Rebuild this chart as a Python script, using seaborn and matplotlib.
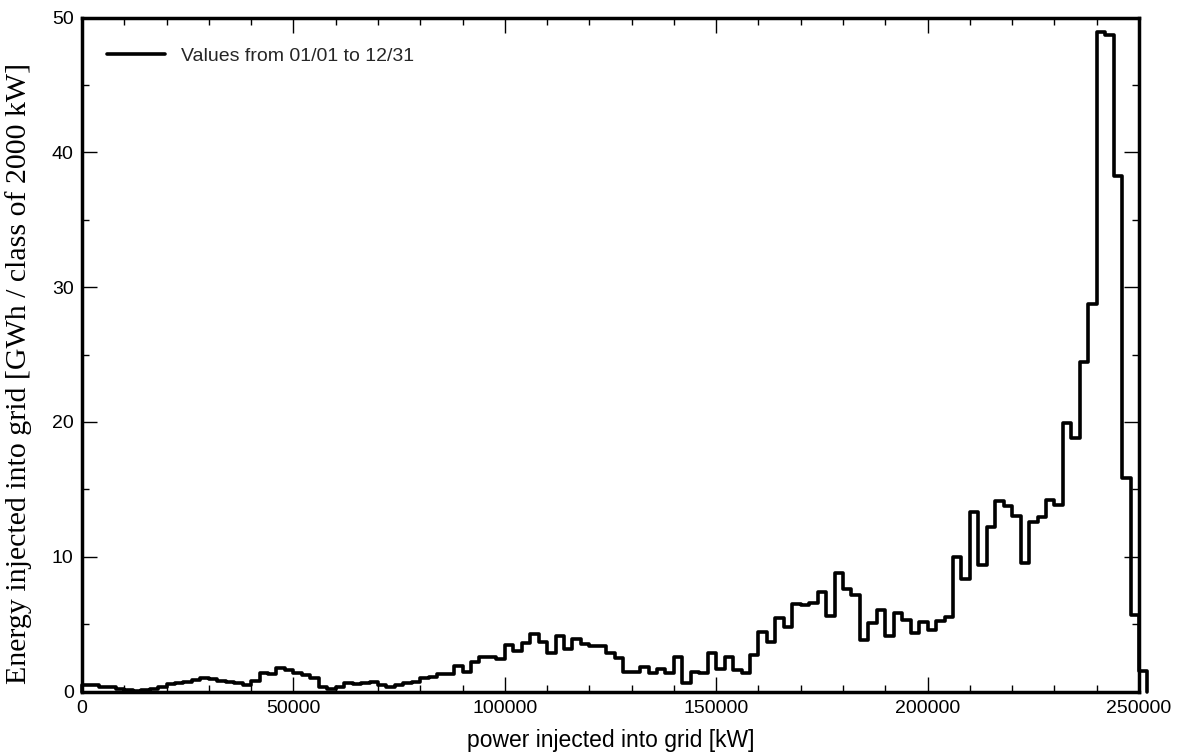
import numpy as np
import pandas as pd
import matplotlib
matplotlib.use("Agg")
import matplotlib.pyplot as plt
from matplotlib.lines import Line2D
from matplotlib.ticker import MultipleLocator, StrMethodFormatter
import seaborn as sns

# Energy per power class of 2000 kW (GWh), classes starting at 0 kW
class_width_kw = 2000
energy_gwh = [
    0.45, 0.45, 0.35, 0.30, 0.15, 0.10, 0.05, 0.12, 0.18, 0.35,
    0.55, 0.65, 0.70, 0.85, 0.98, 0.90, 0.80, 0.68, 0.60, 0.50,
    0.76, 1.38, 1.28, 1.75, 1.60, 1.35, 1.20, 0.98, 0.30, 0.16,
    0.36, 0.65, 0.55, 0.60, 0.73, 0.48, 0.36, 0.50, 0.60, 0.73,
    0.98, 1.10, 1.27, 1.27, 1.86, 1.47, 2.21, 2.58, 2.53, 2.39,
    3.45, 3.00, 3.57, 4.27, 3.70, 2.88, 4.12, 3.13, 3.87, 3.50,
    3.38, 3.38, 2.83, 2.46, 1.42, 1.42, 1.84, 1.35, 1.64, 1.35,
    2.53, 0.66, 1.45, 1.35, 2.83, 1.64, 2.58, 1.60, 1.37, 2.71,
    4.44, 3.70, 5.43, 4.81, 6.47, 6.40, 6.59, 7.36, 5.60, 8.81,
    7.58, 7.16, 3.82, 5.06, 6.05, 4.12, 5.80, 5.30, 4.31, 5.18,
    4.56, 5.25, 5.55, 9.95, 8.32, 13.34, 9.38, 12.23, 14.10, 13.79,
    13.04, 9.56, 12.55, 12.97, 14.21, 13.84, 19.89, 18.78, 24.42, 28.72,
    48.95, 48.70, 38.27, 15.81, 5.67, 1.52,
]
legend_label = "Values from 01/01 to 12/31"
x_label = "power injected into grid [kW]"
y_label = "Energy injected into grid [GWh / class of 2000 kW]"

energy = np.asarray(energy_gwh)
class_start = np.arange(len(energy)) * class_width_kw
class_end = class_start[-1] + class_width_kw

# Outline of the histogram: rise from the baseline, one step per class, back down at the end
step_x = np.concatenate([[0], class_start, [class_end, class_end]])
step_y = np.concatenate([[0.0], energy, [energy[-1], 0.0]])
df = pd.DataFrame({"power": step_x, "energy": step_y})

sns.set_theme(style="white")
plt.rcParams["font.family"] = ["Liberation Sans", "DejaVu Sans"]

W, H = 1187, 754
fig = plt.figure(figsize=(W / 100, H / 100), dpi=100)
ax = fig.add_axes([82 / W, 1 - 691.5 / H, 1057 / W, 674 / H])

sns.lineplot(
    data=df, x="power", y="energy", estimator=None, sort=False,
    drawstyle="steps-post", color="black", linewidth=2.6,
    ax=ax, clip_on=False, zorder=3,
)

ax.set_xlim(0, 250000)
ax.set_ylim(0, 50)
ax.xaxis.set_major_locator(MultipleLocator(50000))
ax.xaxis.set_minor_locator(MultipleLocator(10000))
ax.yaxis.set_major_locator(MultipleLocator(10))
ax.yaxis.set_minor_locator(MultipleLocator(5))
ax.xaxis.set_major_formatter(StrMethodFormatter("{x:.0f}"))
ax.yaxis.set_major_formatter(StrMethodFormatter("{x:.0f}"))

ax.tick_params(which="both", direction="in", top=True, right=True,
               bottom=True, left=True, color="black", width=1.0)
ax.tick_params(which="major", length=10.5, labelsize=14, pad=6,
               labelcolor="black")
ax.tick_params(which="minor", length=5.0)

for side in ("left", "right", "top", "bottom"):
    ax.spines[side].set_visible(True)
    ax.spines[side].set_color("black")
    ax.spines[side].set_linewidth(2.5)
ax.grid(False)

ax.set_xlabel(x_label, fontsize=16.5, color="black", va="center")
ax.xaxis.set_label_coords(0.5, (691.5 - 740) / 674)
ax.set_ylabel(y_label, fontsize=21.5, color="black", va="center", ha="center",
              family=["Liberation Serif", "DejaVu Serif"])
ax.yaxis.set_label_coords((19 - 82) / 1057, (691.5 - 373) / 674)

handle = Line2D([], [], color="black", linewidth=2.6)
ax.legend([handle], [legend_label], loc="center left",
          bbox_to_anchor=(25 / 1057, (691.5 - 56) / 674),
          frameon=False, fontsize=14, handlelength=3.0, handletextpad=0.8,
          borderpad=0, borderaxespad=0)

fig.savefig("out.png", dpi=100, facecolor="white")
